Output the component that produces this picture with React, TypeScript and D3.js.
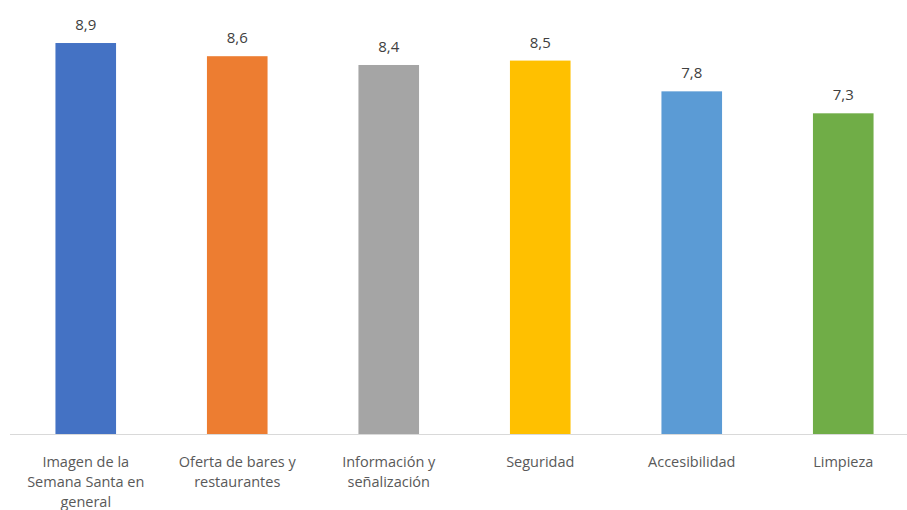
import React from "react";
import * as d3 from "d3";

const categories = [
  "Imagen de la Semana Santa en general",
  "Oferta de bares y restaurantes",
  "Información y señalización",
  "Seguridad",
  "Accesibilidad",
  "Limpieza",
];
const categoryLines = [
  ["Imagen de la", "Semana Santa en", "general"],
  ["Oferta de bares y", "restaurantes"],
  ["Información y", "señalización"],
  ["Seguridad"],
  ["Accesibilidad"],
  ["Limpieza"],
];
const values = [8.9, 8.6, 8.4, 8.5, 7.8, 7.3];
const colors = ["#4472C4", "#ED7D31", "#A5A5A5", "#FFC000", "#5B9BD5", "#70AD47"];

const W = 907;
const H = 510;
const FONT = "'Open Sans', sans-serif";

export default function App() {
  const x = d3.scaleBand<string>().domain(categories).range([10, 919]).paddingInner(0.6).paddingOuter(0.3);
  const y = d3.scaleLinear().domain([0, 10]).range([434, -5.3]);
  const fmt = (v: number) => d3.format(".1f")(v).replace(".", ",");
  return (
    <svg width={W} height={H} style={{ position: "absolute", left: 0, top: 0, background: "#fff" }}>
      <rect x={0} y={0} width={W} height={H} fill="#fff" />
      {categories.map((c, i) => (
        <rect key={c} x={x(c)} y={y(values[i])} width={x.bandwidth()} height={y(0) - y(values[i])} fill={colors[i]} />
      ))}
      <line x1={10} x2={W} y1={434.5} y2={434.5} stroke="#D9D9D9" strokeWidth={1} />
      {categories.map((c, i) => (
        <text key={"v" + c} x={(x(c) as number) + x.bandwidth() / 2} y={y(values[i]) - 13} textAnchor="middle" fontFamily={FONT} fontSize={15} fill="#404040">
          {fmt(values[i])}
        </text>
      ))}
      {categories.map((c, i) => (
        <text key={"c" + c} textAnchor="middle" fontFamily={FONT} fontSize={14.5} fill="#595959">
          {categoryLines[i].map((l, j) => (
            <tspan key={j} x={(x(c) as number) + x.bandwidth() / 2} y={467 + j * 20}>{l}</tspan>
          ))}
        </text>
      ))}
    </svg>
  );
}
